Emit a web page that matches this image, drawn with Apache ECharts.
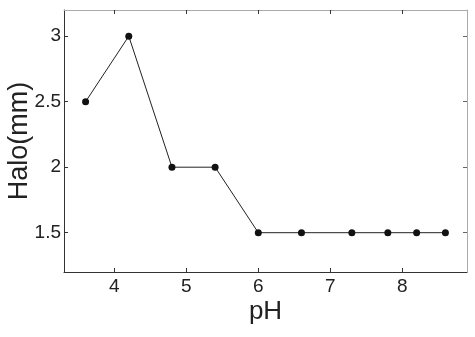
<!DOCTYPE html>
<html>
<head>
<meta charset="utf-8">
<script src="https://cdn.jsdelivr.net/npm/echarts@6/dist/echarts.min.js"></script>
<style>html,body{margin:0;padding:0;background:#fff}#c{width:475px;height:337px}</style>
</head>
<body>
<div id="c"></div>
<script>
const phValues = [3.6, 4.2, 4.8, 5.4, 6.0, 6.6, 7.3, 7.8, 8.2, 8.6];
const haloValues = [2.5, 3.0, 2.0, 2.0, 1.5, 1.5, 1.5, 1.5, 1.5, 1.5];
const xTicks = [4, 5, 6, 7, 8];
const yTicks = [1.5, 2, 2.5, 3];
const xName = 'pH';
const yName = 'Halo(mm)';

const FONT = 'Liberation Sans, Arial, sans-serif';
const chart = echarts.init(document.getElementById('c'), null, {renderer: 'canvas'});
const xBase = {type: 'value', min: 3.3, max: 8.9, splitLine: {show: false}};
const yBase = {type: 'value', min: 1.2, max: 3.2, splitLine: {show: false}};
chart.setOption({
  animation: false,
  backgroundColor: '#fff',
  grid: {left: 64, top: 10, right: 8, bottom: 65, outerBoundsMode: 'none', containLabel: false},
  xAxis: [
    Object.assign({}, xBase, {
      position: 'bottom',
      name: xName, nameLocation: 'middle', nameGap: 27, nameMoveOverlap: false,
      nameTextStyle: {fontFamily: FONT, fontSize: 26, color: '#222'},
      axisLine: {show: true, lineStyle: {color: '#333', width: 1}},
      axisTick: {show: true, inside: true, length: 4, customValues: xTicks, lineStyle: {color: '#333'}},
      axisLabel: {show: true, customValues: xTicks, margin: 5, fontFamily: FONT, fontSize: 19, color: '#222'}
    }),
    Object.assign({}, xBase, {
      position: 'top',
      axisLine: {show: true, lineStyle: {color: '#aaa', width: 1}},
      axisTick: {show: true, inside: true, length: 4, customValues: xTicks, lineStyle: {color: '#333'}},
      axisLabel: {show: false}
    })
  ],
  yAxis: [
    Object.assign({}, yBase, {
      position: 'left',
      name: yName, nameLocation: 'middle', nameGap: 31, nameMoveOverlap: false,
      nameTextStyle: {fontFamily: FONT, fontSize: 27, color: '#222'},
      axisLine: {show: true, lineStyle: {color: '#333', width: 1}},
      axisTick: {show: true, inside: true, length: 4, customValues: yTicks, lineStyle: {color: '#333'}},
      axisLabel: {show: true, customValues: yTicks, margin: 3, fontFamily: FONT, fontSize: 19, color: '#222'}
    }),
    Object.assign({}, yBase, {
      position: 'right',
      axisLine: {show: true, lineStyle: {color: '#aaa', width: 1}},
      axisTick: {show: true, inside: true, length: 4, customValues: yTicks, lineStyle: {color: '#666'}},
      axisLabel: {show: false}
    })
  ],
  series: [{
    type: 'line',
    xAxisIndex: 0, yAxisIndex: 0,
    data: phValues.map((x, i) => [x, haloValues[i]]),
    symbol: 'circle', symbolSize: 7,
    lineStyle: {color: '#222', width: 1},
    itemStyle: {color: '#111'},
    z: 5
  }]
});
</script>
</body>
</html>
